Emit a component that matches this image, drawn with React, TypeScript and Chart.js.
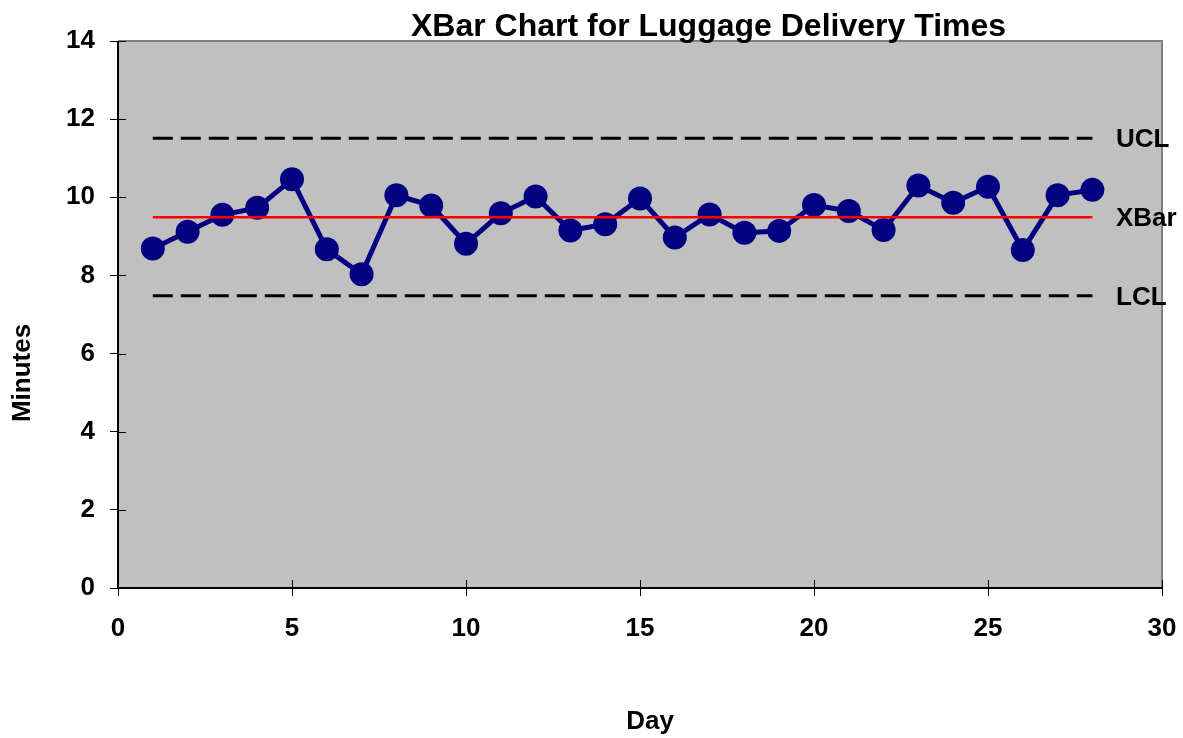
import React, { useEffect, useRef } from "react";
import { Chart, registerables } from "chart.js";

Chart.register(...registerables);

const days = [1, 2, 3, 4, 5, 6, 7, 8, 9, 10, 11, 12, 13, 14, 15, 16, 17, 18, 19, 20, 21, 22, 23, 24, 25, 26, 27, 28];
const xbarValues = [8.69, 9.12, 9.55, 9.73, 10.46, 8.67, 8.03, 10.05, 9.79, 8.81, 9.59, 10.02, 9.15, 9.31, 9.97, 8.97, 9.56, 9.09, 9.14, 9.8, 9.65, 9.16, 10.3, 9.86, 10.27, 8.65, 10.05, 10.19];
const centerLine = 9.49;
const upperLimit = 11.51;
const lowerLimit = 7.48;
const limitLabels = ["UCL", "XBar", "LCL"];
const chartTitle = "XBar Chart for Luggage Delivery Times";
const xTitle = "Day";
const yTitle = "Minutes";

const FONT = '"Liberation Sans", Arial, sans-serif';

export default function App() {
  const ref = useRef<HTMLCanvasElement | null>(null);

  useEffect(() => {
    if (!ref.current) return;
    const first = days[0];
    const last = days[days.length - 1];
    const pts = days.map((d, i) => ({ x: d, y: xbarValues[i] }));

    const decor = {
      id: "decor",
      beforeDatasetsDraw(chart: any) {
        const { ctx, chartArea: a } = chart;
        ctx.save();
        ctx.fillStyle = "#C0C0C0";
        ctx.fillRect(a.left, a.top, a.right - a.left, a.bottom - a.top);
        ctx.restore();
      },
      afterDatasetsDraw(chart: any) {
        const { ctx, chartArea: a, scales } = chart;
        ctx.save();
        ctx.strokeStyle = "#808080";
        ctx.lineWidth = 2;
        ctx.beginPath();
        ctx.moveTo(a.left, a.top);
        ctx.lineTo(a.right, a.top);
        ctx.lineTo(a.right, a.bottom);
        ctx.stroke();
        ctx.strokeStyle = "#000000";
        ctx.beginPath();
        ctx.moveTo(a.left, a.top);
        ctx.lineTo(a.left, a.bottom);
        ctx.lineTo(a.right, a.bottom);
        ctx.stroke();
        ctx.lineWidth = 1;
        scales.x.ticks.forEach((t: any) => {
          const px = Math.round(scales.x.getPixelForValue(t.value)) + 0.5;
          ctx.beginPath();
          ctx.moveTo(px, a.bottom);
          ctx.lineTo(px, a.bottom - 8);
          ctx.stroke();
        });
        scales.y.ticks.forEach((t: any) => {
          const py = Math.round(scales.y.getPixelForValue(t.value)) + 0.5;
          ctx.beginPath();
          ctx.moveTo(a.left, py);
          ctx.lineTo(a.left + 8, py);
          ctx.stroke();
        });
        ctx.restore();
      },
      afterDraw(chart: any) {
        const { ctx, scales } = chart;
        ctx.save();
        ctx.fillStyle = "#000000";
        ctx.font = `bold 32px ${FONT}`;
        ctx.textAlign = "center";
        ctx.textBaseline = "alphabetic";
        ctx.fillText(chartTitle, 708.5, 36);
        ctx.font = `bold 26px ${FONT}`;
        ctx.fillText(xTitle, 650, 729);
        ctx.save();
        ctx.translate(23, 373);
        ctx.rotate(-Math.PI / 2);
        ctx.textBaseline = "middle";
        ctx.fillText(yTitle, 0, 0);
        ctx.restore();
        ctx.textAlign = "left";
        ctx.textBaseline = "middle";
        const vals = [upperLimit, centerLine, lowerLimit];
        limitLabels.forEach((lab, i) => {
          ctx.fillText(lab, 1116, scales.y.getPixelForValue(vals[i]) + 2);
        });
        ctx.restore();
      },
    };

    const chart = new Chart(ref.current, {
      type: "scatter",
      data: {
        datasets: [
          {
            label: "XBar",
            data: [{ x: first, y: centerLine }, { x: last, y: centerLine }],
            showLine: true,
            borderColor: "#FF0000",
            borderWidth: 2.5,
            pointRadius: 0,
            order: 0,
          },
          {
            label: "UCL",
            data: [{ x: first, y: upperLimit }, { x: last, y: upperLimit }],
            showLine: true,
            borderColor: "#000000",
            borderWidth: 3,
            borderDash: [20, 8],
            pointRadius: 0,
            order: 1,
          },
          {
            label: "LCL",
            data: [{ x: first, y: lowerLimit }, { x: last, y: lowerLimit }],
            showLine: true,
            borderColor: "#000000",
            borderWidth: 3,
            borderDash: [20, 8],
            pointRadius: 0,
            order: 2,
          },
          {
            label: "Mean",
            data: pts,
            showLine: true,
            borderColor: "#000080",
            backgroundColor: "#000080",
            borderWidth: 5,
            pointRadius: 12,
            pointBorderWidth: 0,
            pointBackgroundColor: "#000080",
            order: 3,
          },
        ],
      },
      options: {
        responsive: false,
        animation: false,
        layout: { padding: { top: 41, right: 21, left: 0, bottom: 0 } },
        plugins: { legend: { display: false }, title: { display: false }, tooltip: { enabled: false } },
        scales: {
          x: {
            type: "linear",
            min: 0,
            max: 30,
            ticks: { stepSize: 5, color: "#000", padding: 6, font: { family: FONT, size: 26, weight: "bold", lineHeight: 2.1 } },
            grid: { drawOnChartArea: false, tickLength: 8, color: "#000", tickWidth: 1 },
            border: { display: false },
            afterFit: (s: any) => { s.height = 150; },
          },
          y: {
            type: "linear",
            min: 0,
            max: 14,
            ticks: { stepSize: 2, color: "#000", padding: 15, font: { family: FONT, size: 26, weight: "bold" } },
            grid: { drawOnChartArea: false, tickLength: 8, color: "#000", tickWidth: 1 },
            border: { display: false },
            afterFit: (s: any) => { s.width = 118; },
          },
        },
      },
      plugins: [decor],
    });
    return () => chart.destroy();
  }, []);

  return (
    <div style={{ position: "absolute", left: 0, top: 0, width: 1183, height: 738 }}>
      <canvas ref={ref} width={1183} height={738} style={{ display: "block" }} />
    </div>
  );
}
